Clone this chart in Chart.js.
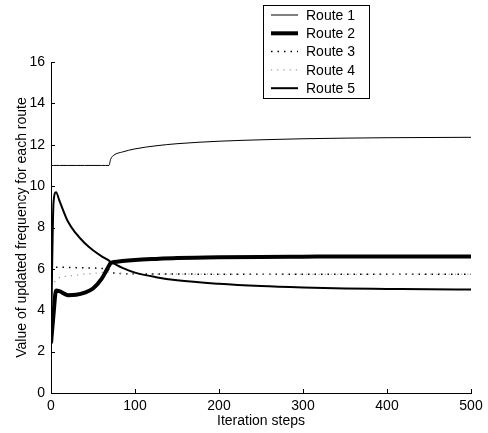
<!DOCTYPE html>
<html>
<head>
<meta charset="utf-8">
<script src="https://cdn.jsdelivr.net/npm/chart.js@4.4.0/dist/chart.umd.min.js"></script>
<style>
  html, body { margin: 0; padding: 0; background: #fff; }
</style>
</head>
<body>
<canvas id="chart" width="488" height="433"></canvas>
<script>
const steps  = [0, 3, 6, 10, 20, 30, 40, 50, 60, 65, 69, 71, 75, 85, 100, 125, 150, 200, 250, 300, 350, 400, 450, 500];
const route1 = [11, 11, 11, 11, 11, 11, 11, 11, 11, 11, 11, 11.3, 11.5, 11.65, 11.8, 11.95, 12.05, 12.17, 12.24, 12.29, 12.32, 12.34, 12.35, 12.36];
const route2 = [2.4, 3.8, 4.95, 4.92, 4.73, 4.75, 4.85, 5.05, 5.5, 5.85, 6.15, 6.28, 6.33, 6.38, 6.43, 6.48, 6.52, 6.56, 6.58, 6.59, 6.6, 6.6, 6.6, 6.6];
const route3 = [5.9, 6.05, 6.08, 6.08, 6.07, 6.06, 6.05, 6.04, 6.02, 6.0, 5.95, 5.85, 5.8, 5.77, 5.76, 5.75, 5.75, 5.74, 5.74, 5.74, 5.74, 5.74, 5.74, 5.74];
const route4 = [5.1, 5.3, 5.45, 5.58, 5.65, 5.7, 5.75, 5.78, 5.82, 5.84, 5.85, 5.82, 5.8, 5.77, 5.76, 5.75, 5.75, 5.74, 5.74, 5.74, 5.74, 5.74, 5.74, 5.74];
const route5 = [2.6, 9.2, 9.7, 9.3, 8.3, 7.7, 7.25, 6.9, 6.62, 6.5, 6.4, 6.33, 6.25, 6.05, 5.82, 5.6, 5.45, 5.28, 5.17, 5.1, 5.05, 5.03, 5.01, 5.0];
const labels = ['Route 1', 'Route 2', 'Route 3', 'Route 4', 'Route 5'];
const xTicks = [0, 100, 200, 300, 400, 500];
const yTicks = [0, 2, 4, 6, 8, 10, 12, 14, 16];

const FONT = 'Liberation Sans, Arial, Helvetica, sans-serif';

const toPts = (ys) => steps.map((x, i) => ({ x: x, y: ys[i] }));

const styles = [
  { borderColor: '#000', borderWidth: 1, borderDash: [] },
  { borderColor: '#000', borderWidth: 4, borderDash: [] },
  { borderColor: '#000', borderWidth: 1.5, borderDash: [1.5, 5] },
  { borderColor: '#999', borderWidth: 1.2, borderDash: [1.2, 5] },
  { borderColor: '#000', borderWidth: 2, borderDash: [] },
];
const series = [route1, route2, route3, route4, route5];

const datasets = series.map((ys, i) => ({
  label: labels[i],
  data: toPts(ys),
  borderColor: styles[i].borderColor,
  borderWidth: styles[i].borderWidth,
  borderDash: styles[i].borderDash,
  pointRadius: 0,
  fill: false,
  cubicInterpolationMode: 'monotone',
  order: 5 - i,
}));

// inward tick marks like the original figure
const inTicks = {
  id: 'inTicks',
  afterDraw(chart) {
    const { ctx, chartArea, scales } = chart;
    ctx.save();
    ctx.strokeStyle = '#000';
    ctx.lineWidth = 1;
    ctx.beginPath();
    xTicks.forEach((v) => {
      const px = Math.round(scales.x.getPixelForValue(v)) + 0.5;
      ctx.moveTo(px, chartArea.bottom);
      ctx.lineTo(px, chartArea.bottom - 4);
    });
    yTicks.forEach((v) => {
      const py = Math.round(scales.y.getPixelForValue(v)) + 0.5;
      ctx.moveTo(chartArea.left, py);
      ctx.lineTo(chartArea.left + 4, py);
    });
    ctx.stroke();
    ctx.restore();
  },
};

// boxed legend in the top middle
const boxLegend = {
  id: 'boxLegend',
  afterDraw(chart) {
    const ctx = chart.ctx;
    const x0 = 263, y0 = 5, w = 106, h = 93;
    ctx.save();
    ctx.fillStyle = '#fff';
    ctx.fillRect(x0, y0, w, h);
    ctx.strokeStyle = '#000';
    ctx.lineWidth = 1;
    ctx.strokeRect(x0 + 0.5, y0 + 0.5, w, h);
    chart.data.datasets.forEach((ds, i) => {
      const y = 15 + i * 18.3;
      ctx.beginPath();
      ctx.strokeStyle = ds.borderColor;
      ctx.lineWidth = ds.borderWidth;
      ctx.setLineDash(ds.borderDash);
      ctx.moveTo(271, y);
      ctx.lineTo(298, y);
      ctx.stroke();
      ctx.setLineDash([]);
      ctx.fillStyle = '#000';
      ctx.font = '14px ' + FONT;
      ctx.textBaseline = 'middle';
      ctx.textAlign = 'left';
      ctx.fillText(ds.label, 306, y + 1);
    });
    ctx.restore();
  },
};

new Chart(document.getElementById('chart'), {
  type: 'line',
  data: { datasets: datasets },
  plugins: [inTicks, boxLegend],
  options: {
    responsive: false,
    animation: false,
    layout: { padding: { top: 62, right: 17, left: 0, bottom: 0 } },
    plugins: { legend: { display: false }, tooltip: { enabled: false } },
    scales: {
      x: {
        type: 'linear',
        min: 0,
        max: 500,
        afterBuildTicks: (s) => { s.ticks = xTicks.map((v) => ({ value: v })); },
        afterFit: (s) => { s.height = 40; },
        grid: { display: false, drawTicks: false },
        border: { display: true, color: '#000', width: 1 },
        ticks: { color: '#000', padding: 5, maxRotation: 0, font: { family: FONT, size: 14 } },
        title: {
          display: true,
          text: 'Iteration steps',
          color: '#000',
          font: { family: FONT, size: 14 },
          padding: { top: 0, bottom: 3 },
        },
      },
      y: {
        type: 'linear',
        min: 0,
        max: 16,
        afterBuildTicks: (s) => { s.ticks = yTicks.map((v) => ({ value: v })); },
        afterFit: (s) => { s.width = 51; },
        grid: { display: false, drawTicks: false },
        border: { display: true, color: '#000', width: 1 },
        ticks: { color: '#000', padding: 6, font: { family: FONT, size: 14 } },
        title: {
          display: true,
          text: 'Value of updated frequency for each route',
          color: '#000',
          font: { family: FONT, size: 14 },
          padding: { top: 14, bottom: 0 },
        },
      },
    },
  },
});
</script>
</body>
</html>
